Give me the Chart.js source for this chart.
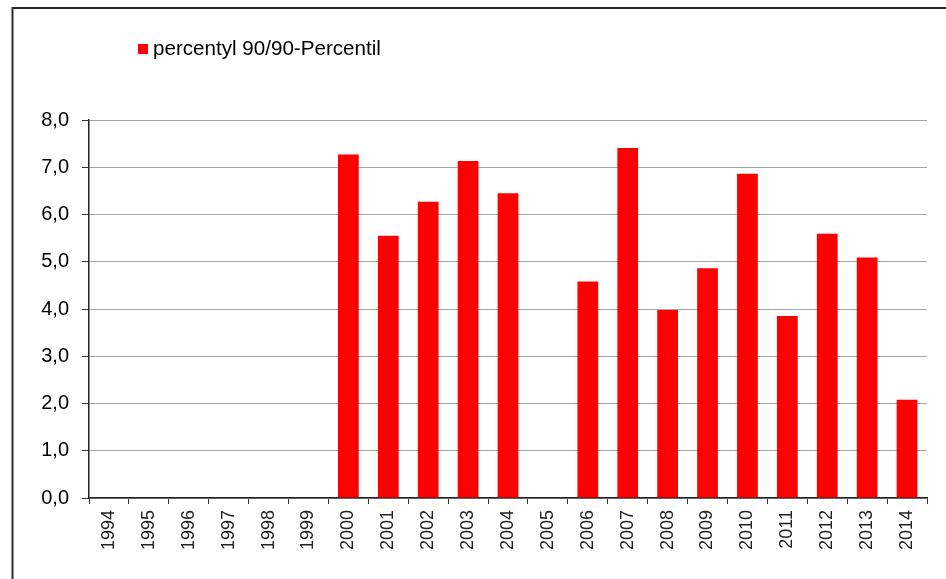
<!DOCTYPE html>
<html>
<head>
<meta charset="utf-8">
<script src="https://cdn.jsdelivr.net/npm/chart.js@4.4.0/dist/chart.umd.min.js"></script>
<style>
  html, body { margin: 0; padding: 0; background: #fff; }
  #wrap { width: 946px; height: 579px; position: relative; }
</style>
</head>
<body>
<div id="wrap"><canvas id="grafik"></canvas></div>
<script>
// lata / Jahre
var years = ['1994', '1995', '1996', '1997', '1998', '1999', '2000', '2001', '2002', '2003', '2004',
             '2005', '2006', '2007', '2008', '2009', '2010', '2011', '2012', '2013', '2014'];
// percentyl 90 (brak danych = null)
var p90 = [null, null, null, null, null, null, 7.27, 5.55, 6.27, 7.13, 6.45,
           null, 4.58, 7.41, 3.98, 4.86, 6.86, 3.85, 5.59, 5.09, 2.08];
var seriesName = 'percentyl 90/90-Percentil';
var yTicks = [0, 1, 2, 3, 4, 5, 6, 7, 8];

var FONT = '"Liberation Sans", Arial, sans-serif';

// ramka + legenda rysowane recznie
var ramka = {
    id: 'ramka',
    afterDraw: function (chart) {
        var ctx = chart.ctx;
        ctx.save();
        ctx.strokeStyle = '#2a2a2a';
        ctx.lineWidth = 2;
        ctx.beginPath();
        ctx.moveTo(946, 8);
        ctx.lineTo(12.5, 8);
        ctx.lineTo(12.5, 579);
        ctx.stroke();

        ctx.fillStyle = '#ff0000';
        ctx.fillRect(138, 44, 10, 10);
        ctx.fillStyle = '#000';
        ctx.font = '20px ' + FONT;
        ctx.textBaseline = 'middle';
        ctx.translate(153, 49);
        ctx.scale(1.03, 1);
        ctx.fillText(seriesName, 0, 0);
        ctx.restore();
    }
};

var config = {
    type: 'bar',
    data: {
        labels: years,
        datasets: [{
            label: seriesName,
            data: p90,
            backgroundColor: '#ff0000',
            barPercentage: 0.52,
            categoryPercentage: 1.0
        }]
    },
    options: {
        responsive: false,
        animation: false,
        layout: { padding: { top: 120, right: 19, left: 0, bottom: 0 } },
        plugins: {
            legend: { display: false },
            tooltip: { enabled: false }
        },
        scales: {
            x: {
                grid: { drawOnChartArea: false, offset: true, tickLength: 6, tickColor: '#333' },
                border: { color: '#222', width: 1.5 },
                ticks: {
                    color: '#222',
                    font: { family: FONT, size: 18 },
                    minRotation: 90,
                    maxRotation: 90,
                    padding: 6,
                    autoSkip: false
                },
                afterFit: function (scale) { scale.height = 81; }
            },
            y: {
                min: 0,
                max: 8,
                afterBuildTicks: function (scale) {
                    scale.ticks = yTicks.map(function (v) { return { value: v }; });
                },
                grid: { color: '#a6a6a6', lineWidth: 1, tickLength: 7, tickColor: '#333' },
                border: { color: '#222', width: 1.5 },
                ticks: {
                    color: '#000',
                    font: { family: FONT, size: 20 },
                    padding: 13,
                    callback: function (value) {
                        return value.toFixed(1).replace('.', ','); // przecinek dziesietny
                    }
                },
                afterFit: function (scale) { scale.width = 89; }
            }
        }
    },
    plugins: [ramka]
};

var canvas = document.getElementById('grafik');
canvas.width = 946;
canvas.height = 579;
var chart = new Chart(canvas, config);
</script>
</body>
</html>
